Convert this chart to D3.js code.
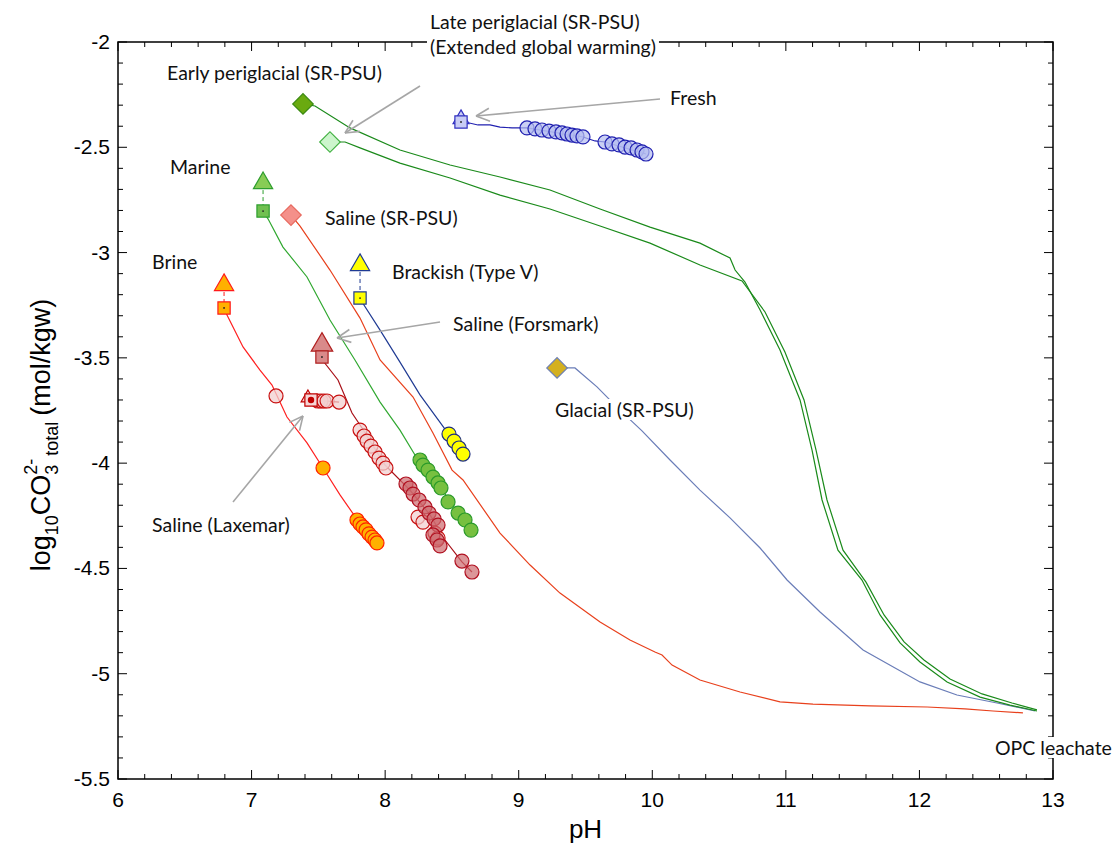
<!DOCTYPE html>
<html>
<head>
<meta charset="utf-8">
<script src="https://cdn.jsdelivr.net/npm/d3@7"></script>
<style>
  body { margin: 0; background: white; }
</style>
</head>
<body>
<div id="chart"></div>
<script>
// pH vs log10 CO3(2-) total data, [pH, log] pairs

// green curves (SR-PSU periglacial)
const earlyCurve = [[7.385,-2.294],[7.475,-2.304],[7.737,-2.408],[8.111,-2.513],[8.486,-2.584],[8.860,-2.641],[9.234,-2.703],[9.609,-2.793],[9.983,-2.879],[10.357,-2.955],[10.582,-3.026],[10.620,-3.083],[10.694,-3.140],[10.807,-3.273],[10.956,-3.463],[11.106,-3.700],[11.196,-3.938],[11.271,-4.175],[11.390,-4.413],[11.570,-4.555],[11.705,-4.721],[11.855,-4.854],[12.004,-4.944],[12.207,-5.039],[12.454,-5.111],[12.678,-5.149],[12.880,-5.177]];
const lateCurve = [[7.587,-2.475],[7.700,-2.475],[7.812,-2.503],[8.111,-2.575],[8.486,-2.646],[8.860,-2.727],[9.234,-2.793],[9.609,-2.874],[9.983,-2.955],[10.357,-3.059],[10.672,-3.135],[10.844,-3.282],[10.993,-3.472],[11.136,-3.700],[11.226,-3.938],[11.308,-4.175],[11.428,-4.413],[11.600,-4.565],[11.735,-4.721],[11.885,-4.849],[12.034,-4.935],[12.229,-5.025],[12.469,-5.096],[12.693,-5.139],[12.880,-5.172]];
const glacialCurve = [[9.287,-3.548],[9.421,-3.548],[9.586,-3.638],[9.758,-3.748],[9.923,-3.847],[10.133,-3.985],[10.357,-4.128],[10.582,-4.260],[10.807,-4.403],[11.009,-4.555],[11.256,-4.707],[11.578,-4.887],[12.004,-5.039],[12.281,-5.101],[12.581,-5.139],[12.865,-5.177]];
const salineSrCurve = [[7.295,-2.822],[7.363,-2.874],[7.587,-3.083],[7.812,-3.311],[7.962,-3.510],[8.209,-3.686],[8.358,-3.857],[8.501,-4.033],[8.583,-4.080],[8.860,-4.332],[9.085,-4.484],[9.309,-4.617],[9.609,-4.754],[9.833,-4.840],[10.020,-4.897],[10.073,-4.911],[10.148,-4.959],[10.357,-5.030],[10.657,-5.087],[10.956,-5.134],[11.203,-5.144],[11.630,-5.153],[12.057,-5.158],[12.341,-5.167],[12.551,-5.177],[12.775,-5.186]];

// groundwater lines
const marineLine = [[7.086,-2.803],[7.124,-2.841],[7.235,-2.974],[7.415,-3.116],[7.587,-3.320],[7.774,-3.510],[7.962,-3.710],[8.111,-3.843],[8.246,-3.985],[8.261,-3.985],[8.321,-4.033],[8.418,-4.118],[8.546,-4.237],[8.643,-4.318]];
const brackishLine = [[7.812,-3.216],[7.827,-3.235],[7.962,-3.368],[8.111,-3.520],[8.261,-3.676],[8.463,-3.852],[8.583,-3.957]];
const brineLine = [[6.794,-3.263],[6.816,-3.297],[6.936,-3.448],[7.063,-3.558],[7.153,-3.629],[7.265,-3.781],[7.415,-3.904],[7.535,-4.023],[7.662,-4.151],[7.782,-4.260],[7.939,-4.384]];
const forsmarkLine = [[7.527,-3.496],[7.542,-3.520],[7.647,-3.605],[7.752,-3.762],[7.827,-3.833],[7.999,-4.009],[8.186,-4.128],[8.336,-4.246],[8.448,-4.365],[8.575,-4.469],[8.650,-4.517]];
const laxemarLine = [[7.445,-3.700],[7.655,-3.710]];
const freshLine = [[8.568,-2.380],[8.598,-2.380],[8.695,-2.394],[8.785,-2.394],[8.860,-2.404],[8.950,-2.408],[9.062,-2.408],[9.481,-2.451],[9.571,-2.470],[9.646,-2.475],[9.953,-2.532]];

// circles (samples)
const freshPts = [[9.062,-2.408],[9.122,-2.413],[9.174,-2.418],[9.227,-2.423],[9.279,-2.427],[9.324,-2.432],[9.362,-2.437],[9.399,-2.442],[9.436,-2.446],[9.481,-2.451],[9.646,-2.475],[9.698,-2.484],[9.751,-2.489],[9.796,-2.499],[9.841,-2.503],[9.886,-2.513],[9.923,-2.522],[9.953,-2.532]];
const marinePts = [[8.261,-3.985],[8.283,-4.009],[8.321,-4.033],[8.358,-4.066],[8.396,-4.094],[8.418,-4.118],[8.471,-4.184],[8.546,-4.237],[8.598,-4.270],[8.643,-4.318]];
const brackishPts = [[8.478,-3.862],[8.516,-3.895],[8.553,-3.928],[8.583,-3.957]];
const brinePts = [[7.535,-4.023],[7.789,-4.270],[7.812,-4.289],[7.834,-4.303],[7.857,-4.317],[7.879,-4.336],[7.902,-4.351],[7.924,-4.365],[7.939,-4.379]];
const forsmarkPts = [[8.156,-4.099],[8.186,-4.118],[8.209,-4.147],[8.254,-4.175],[8.298,-4.208],[8.329,-4.237],[8.366,-4.265],[8.396,-4.294],[8.358,-4.341],[8.388,-4.365],[8.411,-4.393],[8.575,-4.465],[8.650,-4.517]];
const laxemarPts = [[7.183,-3.681],[7.497,-3.705],[7.520,-3.705],[7.542,-3.705],[7.565,-3.705],[7.655,-3.710],[7.812,-3.843],[7.842,-3.871],[7.864,-3.895],[7.894,-3.919],[7.924,-3.947],[7.954,-3.976],[7.984,-4.000],[8.006,-4.023],[8.246,-4.256],[8.283,-4.280],[8.373,-4.332],[8.396,-4.356]];

// end members: triangle (start) and square (equilibrated)
const triangles = [
  {name: "Brine", p: [6.794,-3.154], fill: "#ffb000", stroke: "#ff1a1a", size: 160},
  {name: "Marine", p: [7.086,-2.670], fill: "#88cc55", stroke: "#2e9e2e", size: 160},
  {name: "Brackish", p: [7.812,-3.059], fill: "#ffff00", stroke: "#1f3a93", size: 160},
  {name: "Forsmark", p: [7.527,-3.439], fill: "#d98a8a", stroke: "#b02020", size: 200},
  {name: "Fresh", p: [8.568,-2.366], fill: "#c8ccf5", stroke: "#3030c0", size: 110},
  {name: "Laxemar", p: [7.422,-3.690], fill: "#f5d5d5", stroke: "#c00000", size: 80}
];
const squares = [
  {name: "Brine", p: [6.794,-3.263], fill: "#ffb000", stroke: "#ff1a1a"},
  {name: "Marine", p: [7.086,-2.803], fill: "#70c050", stroke: "#2e9e2e"},
  {name: "Brackish", p: [7.812,-3.216], fill: "#ffff00", stroke: "#1f3a93"},
  {name: "Forsmark", p: [7.527,-3.496], fill: "#d98a8a", stroke: "#b02020"},
  {name: "Fresh", p: [8.568,-2.380], fill: "#c8ccf5", stroke: "#3030c0"},
  {name: "Laxemar", p: [7.445,-3.700], fill: "#f5d5d5", stroke: "#c00000"}
];
const diamonds = [
  {name: "Early periglacial", p: [7.385,-2.294], fill: "#6aaa10", stroke: "#3a8a10"},
  {name: "Late periglacial", p: [7.587,-2.475], fill: "#ccf5cc", stroke: "#40b040"},
  {name: "Saline SR-PSU", p: [7.295,-2.822], fill: "#f4908a", stroke: "#e86a60"},
  {name: "Glacial", p: [9.287,-3.548], fill: "#d4b020", stroke: "#7080b0"}
];

const xTicks = [6, 7, 8, 9, 10, 11, 12, 13];
const yTicks = [-2, -2.5, -3, -3.5, -4, -4.5, -5, -5.5];

let W = 1116, H = 845;
let margin = {top: 42, left: 118, right: 63, bottom: 66};

let svg = d3.select('#chart')
  .append('svg')
  .attr('width', W)
  .attr('height', H)
  .style('background-color', 'white');

let x = d3.scaleLinear().domain([6, 13]).range([margin.left, W - margin.right]);
let y = d3.scaleLinear().domain([-5.5, -2]).range([H - margin.bottom, margin.top]);

let line = d3.line().x(d => x(d[0])).y(d => y(d[1]));

// axes frame + ticks (inward, all four sides)
let plotL = x(6), plotR = x(13), plotT = y(-2), plotB = y(-5.5);
svg.append("rect")
  .attr("x", plotL).attr("y", plotT)
  .attr("width", plotR - plotL).attr("height", plotB - plotT)
  .style("fill", "none")
  .style("stroke", "black")
  .style("stroke-width", 1.5);

let xMinor = d3.range(0, 36).map(i => 6 + i * 0.2);
let yMinor = d3.range(0, 36).map(i => -5.5 + i * 0.1);
xMinor.forEach((v, i) => {
  let len = (i % 5 == 0) ? 9 : 5;
  svg.append("line").attr("x1", x(v)).attr("x2", x(v)).attr("y1", plotB).attr("y2", plotB - len).attr("stroke", "black");
  svg.append("line").attr("x1", x(v)).attr("x2", x(v)).attr("y1", plotT).attr("y2", plotT + len).attr("stroke", "black");
});
yMinor.forEach((v, i) => {
  let len = (i % 5 == 0) ? 9 : 5;
  svg.append("line").attr("x1", plotL).attr("x2", plotL + len).attr("y1", y(v)).attr("y2", y(v)).attr("stroke", "black");
  svg.append("line").attr("x1", plotR).attr("x2", plotR - len).attr("y1", y(v)).attr("y2", y(v)).attr("stroke", "black");
});

// curves
const curves = [
  [glacialCurve, "#6a7db8"],
  [salineSrCurve, "#e8401c"],
  [earlyCurve, "#1a8a1a"],
  [lateCurve, "#1a8a1a"],
  [marineLine, "#30a830"],
  [brackishLine, "#1f3a93"],
  [brineLine, "#ff2020"],
  [forsmarkLine, "#a81018"],
  [laxemarLine, "#c00000"],
  [freshLine, "#2020b0"]
];
curves.forEach(c => {
  svg.append("path")
    .datum(c[0])
    .attr("d", line)
    .attr("fill", "none")
    .attr("stroke", c[1])
    .attr("stroke-width", 1.2);
});

// vertical ticks linking triangle and square
triangles.forEach((t, i) => {
  svg.append("line")
    .attr("x1", x(t.p[0])).attr("x2", x(squares[i].p[0]))
    .attr("y1", y(t.p[1])).attr("y2", y(squares[i].p[1]))
    .attr("stroke", t.stroke)
    .attr("stroke-width", 1)
    .attr("stroke-dasharray", "4,3");
});

// sample circles
function circles(data, fill, stroke) {
  svg.selectAll(null)
    .data(data)
    .enter()
    .append("circle")
    .attr("cx", d => x(d[0]))
    .attr("cy", d => y(d[1]))
    .attr("r", 7)
    .style("fill", fill)
    .style("stroke", stroke)
    .style("stroke-width", 1.2);
}
circles(laxemarPts, "rgba(242,208,208,0.75)", "#c81010");
circles(forsmarkPts, "rgba(205,105,110,0.7)", "#b01020");
circles(marinePts, "#77c040", "#2a9a2a");
circles(brackishPts, "#ffff00", "#203080");
circles(brinePts, "#ffb000", "#ff2000");
circles(freshPts, "rgba(180,188,240,0.7)", "#2020b0");

// triangles
triangles.forEach(t => {
  svg.append("path")
    .attr("d", d3.symbol().type(d3.symbolTriangle).size(t.size)())
    .attr("transform", `translate(${x(t.p[0])},${y(t.p[1])})`)
    .style("fill", t.fill)
    .style("stroke", t.stroke)
    .style("stroke-width", 1.2);
});

// squares
squares.forEach(s => {
  svg.append("path")
    .attr("d", d3.symbol().type(d3.symbolSquare).size(150)())
    .attr("transform", `translate(${x(s.p[0])},${y(s.p[1])})`)
    .style("fill", s.fill)
    .style("stroke", s.stroke)
    .style("stroke-width", 1.2);
  svg.append("circle")
    .attr("cx", x(s.p[0]))
    .attr("cy", y(s.p[1]))
    .attr("r", s.name == "Laxemar" ? 3.2 : 0.9)
    .style("fill", s.name == "Laxemar" ? "#c00000" : "#222");
});

// diamonds
diamonds.forEach(dm => {
  svg.append("path")
    .attr("d", d3.symbol().type(d3.symbolSquare).size(210)())
    .attr("transform", `translate(${x(dm.p[0])},${y(dm.p[1])}) rotate(45)`)
    .style("fill", dm.fill)
    .style("stroke", dm.stroke)
    .style("stroke-width", 1.2);
});

// tick labels
svg.selectAll(null).data(xTicks).enter().append("text")
  .attr("x", d => x(d))
  .attr("y", plotB + 28)
  .attr("text-anchor", "middle")
  .style("font-family", "Liberation Sans, Arial, sans-serif")
  .style("font-size", "21px")
  .text(d => d);
svg.selectAll(null).data(yTicks).enter().append("text")
  .attr("x", plotL - 8)
  .attr("y", d => y(d) + 7)
  .attr("text-anchor", "end")
  .style("font-family", "Liberation Sans, Arial, sans-serif")
  .style("font-size", "21px")
  .text(d => d);

// axis titles
svg.append("text")
  .attr("x", (plotL + plotR) / 2)
  .attr("y", 838)
  .attr("text-anchor", "middle")
  .style("font-family", "Liberation Sans, Arial, sans-serif")
  .style("font-size", "26px")
  .text("pH");

let yt = svg.append("text")
  .attr("transform", "translate(50,435) rotate(-90)")
  .attr("text-anchor", "middle")
  .style("font-family", "Liberation Sans, Arial, sans-serif")
  .style("font-size", "27px");
yt.append("tspan").text("log");
yt.append("tspan").attr("dy", 8).style("font-size", "18px").text("10");
yt.append("tspan").attr("dy", -8).text("CO");
yt.append("tspan").attr("dy", 8).style("font-size", "18px").text("3");
yt.append("tspan").attr("dx", -10).attr("dy", -21).style("font-size", "18px").text("2-");
yt.append("tspan").attr("dx", -2).attr("dy", 21).style("font-size", "18px").text(" total");
yt.append("tspan").attr("dx", 6).attr("dy", -8).text("(mol/kgw)");

// annotation labels (text boxes with white fill, as in the original)
const labels = [
  ["Late periglacial (SR-PSU)", 430, 29],
  ["(Extended global warming)", 430, 54],
  ["Early periglacial (SR-PSU)", 167, 80],
  ["Fresh", 670, 105],
  ["Marine", 170, 174],
  ["Saline (SR-PSU)", 325, 225],
  ["Brine", 152, 269],
  ["Brackish (Type V)", 392, 279],
  ["Saline (Forsmark)", 453, 331],
  ["Glacial (SR-PSU)", 555, 417],
  ["Saline (Laxemar)", 152, 532],
  ["OPC leachate", 995, 755]
];
let labelLayer = svg.append("g");
labels.forEach(l => {
  let box = labelLayer.append("rect").style("fill", "white");
  let t = labelLayer.append("text")
    .attr("x", l[1])
    .attr("y", l[2])
    .style("font-family", "Lato, 'Open Sans', sans-serif")
    .style("font-size", "19.5px")
    .style("fill", "#111")
    .text(l[0]);
  let bb = t.node().getBBox();
  box.attr("x", bb.x - 3).attr("y", bb.y + 1)
    .attr("width", bb.width + 6).attr("height", bb.height - 2);
});

// gray arrows
const arrows = [
  [420, 86, 345, 133],
  [660, 99, 476, 116],
  [440, 322, 337, 338],
  [233, 502, 303, 416]
];
arrows.forEach(a => {
  let ang = Math.atan2(a[3] - a[1], a[2] - a[0]);
  let hl = 15, ha = 0.45;
  svg.append("line")
    .attr("x1", a[0]).attr("y1", a[1]).attr("x2", a[2]).attr("y2", a[3])
    .attr("stroke", "#a6a6a6").attr("stroke-width", 1.6);
  [ang + Math.PI - ha, ang + Math.PI + ha].forEach(b => {
    svg.append("line")
      .attr("x1", a[2]).attr("y1", a[3])
      .attr("x2", a[2] + hl * Math.cos(b)).attr("y2", a[3] + hl * Math.sin(b))
      .attr("stroke", "#a6a6a6").attr("stroke-width", 1.6);
  });
});
</script>
</body>
</html>
